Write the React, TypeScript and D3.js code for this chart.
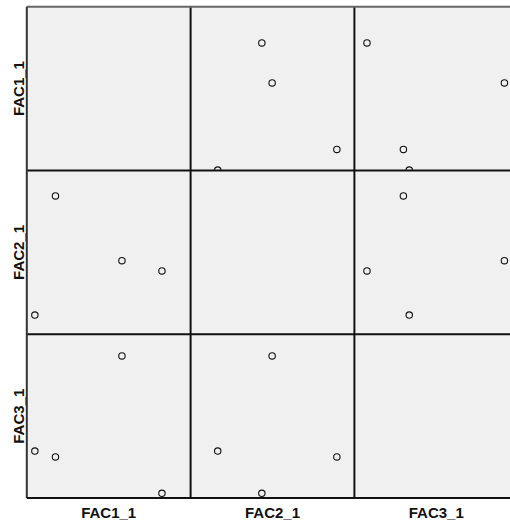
import React from "react";
import * as d3 from "d3";

// Variables of the matrix
const variables = ["FAC1_1", "FAC2_1", "FAC3_1"];

// Factor scores per case (cases A, B, C, D)
const fac1 = [-1.0, -0.65, 0.48, 1.16];
const fac2 = [-1.11, 1.32, 0.0, -0.21];
const fac3 = [-0.2, -0.3, 1.42, -0.92];

// Axis ranges per variable (horizontal and vertical use)
const xDomains = [
  [-1.137, 1.647],
  [-1.663, 1.678],
  [-1.134, 1.655],
];
const yDomains = [
  [-1.008, 1.776],
  [-1.502, 1.839],
  [-1.001, 1.788],
];

const series = [fac1, fac2, fac3];

const W = 510;
const H = 525;
const X0 = 26.8;
const Y0 = 6.7;
const S = 163.8;

export default function App() {
  const n = variables.length;
  const cells: { r: number; c: number }[] = [];
  for (let r = 0; r < n; r++) for (let c = 0; c < n; c++) cells.push({ r, c });

  return (
    <svg
      width={W}
      height={H}
      style={{ position: "absolute", left: 0, top: 0, background: "#fff" }}
      fontFamily="'Liberation Sans', Arial, sans-serif"
    >
      <defs>
        {cells.map(({ r, c }) => (
          <clipPath id={`clip-${r}-${c}`} key={`cp-${r}-${c}`}>
            <rect x={X0 + c * S} y={Y0 + r * S} width={S} height={S} />
          </clipPath>
        ))}
      </defs>
      <rect x={X0} y={Y0} width={S * n} height={S * n} fill="#f0f0f0" />
      {cells.map(({ r, c }) => {
        if (r === c) return null;
        const xs = d3
          .scaleLinear()
          .domain(xDomains[c])
          .range([X0 + c * S, X0 + (c + 1) * S]);
        const ys = d3
          .scaleLinear()
          .domain(yDomains[r])
          .range([Y0 + (r + 1) * S, Y0 + r * S]);
        const xv = series[c];
        const yv = series[r];
        return (
          <g key={`g-${r}-${c}`} clipPath={`url(#clip-${r}-${c})`}>
            {xv.map((v, i) => (
              <circle
                key={i}
                cx={xs(v)}
                cy={ys(yv[i])}
                r={3.2}
                fill="none"
                stroke="#111"
                strokeWidth={1.1}
              />
            ))}
          </g>
        );
      })}
      {/* inner grid lines */}
      {d3.range(1, n).map((k) => (
        <g key={`l-${k}`}>
          <line
            x1={X0 + k * S}
            x2={X0 + k * S}
            y1={Y0}
            y2={Y0 + n * S}
            stroke="#111"
            strokeWidth={2}
          />
          <line
            x1={X0}
            x2={X0 + n * S}
            y1={Y0 + k * S}
            y2={Y0 + k * S}
            stroke="#111"
            strokeWidth={2}
          />
        </g>
      ))}
      {/* outer frame */}
      <line x1={X0} x2={X0 + n * S} y1={Y0} y2={Y0} stroke="#666" strokeWidth={2} />
      <line x1={X0} x2={X0} y1={Y0} y2={Y0 + n * S} stroke="#333" strokeWidth={2} />
      <line x1={X0} x2={X0 + n * S} y1={Y0 + n * S} y2={Y0 + n * S} stroke="#111" strokeWidth={2} />
      {/* column labels */}
      {variables.map((v, c) => (
        <text
          key={`cx-${c}`}
          x={X0 + (c + 0.5) * S}
          y={518}
          textAnchor="middle"
          fontSize={15}
          fontWeight="bold"
          fill="#111"
        >
          {v}
        </text>
      ))}
      {/* row labels */}
      {variables.map((v, r) => (
        <text
          key={`ry-${r}`}
          transform={`translate(24, ${Y0 + (r + 0.5) * S}) rotate(-90)`}
          textAnchor="middle"
          fontSize={15}
          fontWeight="bold"
          fill="#111"
        >
          {v}
        </text>
      ))}
    </svg>
  );
}
